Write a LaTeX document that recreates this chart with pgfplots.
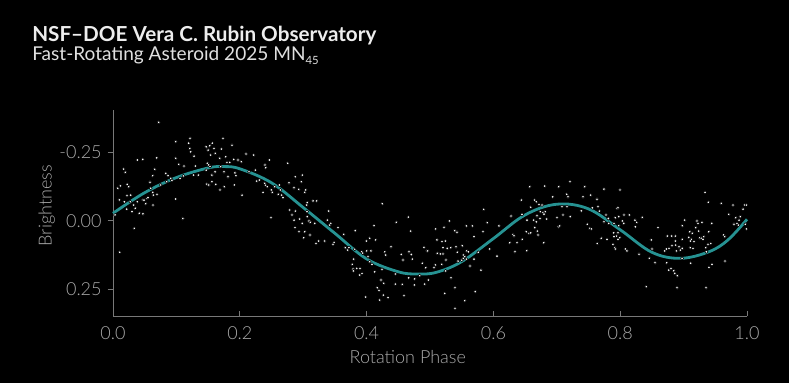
\documentclass[border=0pt]{standalone}
\usepackage{pgfplots}
\pgfplotsset{compat=1.18}
\usepackage{pgfplotstable}
\usepackage{fontspec}
\setmainfont{Lato}
\newfontfamily\lightfont{Lato Light}
\definecolor{teal1}{RGB}{38,146,146}
\definecolor{tickgray}{RGB}{170,170,170}
\definecolor{axgray}{RGB}{120,120,120}

\pgfplotstableread{
p v
0.072 -0.358
0.0988 -0.288
0.1215 -0.300
0.1193 -0.282
0.121 -0.263
0.1225 -0.251
0.1278 -0.235
0.147 -0.269
0.150 -0.257
0.1525 -0.273
0.1567 -0.282
0.1593 -0.263
0.1614 -0.245
0.154 -0.239
0.0384 -0.221
0.0468 -0.223
0.0689 -0.229
0.0988 -0.227
0.1036 -0.205
0.112 -0.199
0.0168 -0.188
0.0195 -0.176
0.0657 -0.187
0.0626 -0.164
0.0831 -0.172
0.0868 -0.164
0.091 -0.154
0.130 -0.199
0.127 -0.166
0.1346 -0.166
0.1488 -0.209
0.1509 -0.203
0.153 -0.197
0.147 -0.184
0.156 -0.166
0.161 -0.178
0.1057 -0.154
0.111 -0.163
0.0074 -0.118
0.0116 -0.127
0.0226 -0.132
0.0247 -0.124
0.0221 -0.091
0.0279 -0.093
0.0584 -0.140
0.0594 -0.118
0.0626 -0.103
0.0636 -0.093
0.0694 -0.096
0.0752 -0.130
0.0846 -0.142
0.093 -0.147
0.148 -0.133
0.151 -0.130
0.156 -0.142
0.162 -0.132
0.010 -0.076
0.0179 -0.069
0.0216 -0.042
0.0273 -0.069
0.030 -0.033
0.0326 -0.057
0.0352 -0.045
0.0384 -0.069
0.0415 -0.027
0.0468 -0.075
0.0489 -0.075
0.0515 -0.062
0.0536 -0.081
0.0552 -0.084
0.0473 -0.025
0.0631 -0.057
0.0988 -0.079
0.0032 -0.021
0.110 -0.008
0.0336 0.028
0.0105 0.115
0.1735 -0.300
0.1877 -0.275
0.1709 -0.261
0.1777 -0.233
0.1682 -0.227
0.2098 -0.243
0.2219 -0.239
0.1798 -0.212
0.184 -0.212
0.1903 -0.223
0.1972 -0.221
0.2024 -0.215
0.2466 -0.221
0.2397 -0.203
0.2408 -0.193
0.2755 -0.209
0.1698 -0.197
0.1751 -0.178
0.1924 -0.174
0.194 -0.164
0.2145 -0.178
0.2245 -0.184
0.1814 -0.160
0.1756 -0.124
0.1688 -0.112
0.1914 -0.130
0.2035 -0.093
0.2266 -0.144
0.2308 -0.148
0.2403 -0.130
0.2434 -0.124
0.2392 -0.136
0.2497 -0.112
0.2513 -0.103
0.2624 -0.130
0.2639 -0.112
0.2608 -0.096
0.2681 -0.084
0.266 -0.093
0.2366 -0.103
0.255 -0.124
0.2776 -0.138
0.2876 -0.160
0.2986 -0.166
0.2971 -0.142
0.2855 -0.120
0.2929 -0.114
0.3039 -0.112
0.3023 -0.103
0.3065 -0.066
0.3055 -0.057
0.3155 -0.072
0.3212 -0.072
0.2787 -0.039
0.2876 -0.035
0.2823 -0.021
0.2855 -0.002
0.2944 -0.006
0.2986 0.010
0.3065 -0.015
0.3091 0.001
0.3113 0.006
0.3181 0.010
0.306 -0.033
0.2492 -0.011
0.2871 0.025
0.2934 0.040
0.3023 0.040
0.3007 0.062
0.3107 0.052
0.3202 0.083
0.3244 0.074
0.4248 -0.062
0.3402 -0.035
0.4658 -0.013
0.3381 -0.002
0.3433 0.010
0.3417 0.016
0.4469 0.006
0.4117 0.018
0.4695 0.038
0.3549 0.025
0.3822 0.036
0.3638 0.050
0.3339 0.074
0.3486 0.079
0.347 0.086
0.4048 0.064
0.3996 0.074
0.4143 0.070
0.4385 0.095
0.4905 0.097
0.4953 0.110
0.3665 0.098
0.3722 0.098
0.3701 0.107
0.3812 0.104
0.3922 0.113
0.3938 0.118
0.4001 0.110
0.4069 0.110
0.4285 0.113
0.4301 0.125
0.4548 0.123
0.4669 0.113
0.4706 0.123
0.4022 0.131
0.4574 0.143
0.4721 0.140
0.3796 0.140
0.4048 0.149
0.4085 0.159
0.3775 0.159
0.3896 0.174
0.3843 0.174
0.4879 0.155
0.4932 0.171
0.4243 0.177
0.3786 0.176
0.3791 0.183
0.3927 0.192
0.3891 0.198
0.4127 0.186
0.4453 0.194
0.4664 0.208
0.4758 0.212
0.4837 0.200
0.4227 0.216
0.4269 0.228
0.4453 0.231
0.4564 0.232
0.4753 0.234
0.4916 0.231
0.4169 0.244
0.4196 0.254
0.4264 0.271
0.4338 0.280
0.4206 0.289
0.3985 0.278
0.4590 0.273
0.6572 -0.124
0.6441 -0.075
0.5846 -0.041
0.6588 -0.049
0.6278 -0.017
0.6451 -0.023
0.5305 0.001
0.653 -0.002
0.5904 0.007
0.6088 0.019
0.5573 0.019
0.5668 0.019
0.5221 0.024
0.5089 0.030
0.5389 0.036
0.5426 0.042
0.5836 0.040
0.6519 0.040
0.6562 0.046
0.6588 0.044
0.6309 0.050
0.6325 0.055
0.5694 0.058
0.5110 0.070
0.5189 0.076
0.5242 0.074
0.551 0.091
0.6257 0.080
0.6372 0.080
0.6456 0.068
0.4963 0.110
0.5205 0.098
0.5273 0.101
0.5326 0.098
0.541 0.095
0.5578 0.110
0.5605 0.113
0.5762 0.115
0.5941 0.103
0.634 0.113
0.6525 0.109
0.5116 0.119
0.5163 0.121
0.5205 0.121
0.5431 0.115
0.5526 0.125
0.5547 0.131
0.5526 0.137
0.5573 0.140
0.5252 0.143
0.5442 0.147
0.5694 0.140
0.6057 0.129
0.5084 0.161
0.5184 0.159
0.5063 0.171
0.5500 0.144
0.5631 0.165
0.5247 0.183
0.5804 0.180
0.4974 0.216
0.5331 0.208
0.5394 0.244
0.5231 0.265
0.5715 0.258
0.5547 0.291
0.5394 0.319
0.7208 -0.142
0.6809 -0.126
0.7029 -0.124
0.7439 -0.124
0.7744 -0.115
0.7997 -0.112
0.7156 -0.096
0.7177 -0.087
0.6935 -0.087
0.7413 -0.087
0.7534 -0.093
0.7634 -0.078
0.6651 -0.075
0.6677 -0.069
0.6719 -0.059
0.6767 -0.057
0.7082 -0.051
0.7161 -0.051
0.7560 -0.047
0.765 -0.051
0.7671 -0.035
0.795 -0.045
0.7965 -0.047
0.674 -0.033
0.6782 -0.030
0.6819 -0.033
0.6798 -0.024
0.7387 -0.036
0.6688 -0.018
0.6735 -0.008
0.7003 -0.011
0.7098 -0.021
0.7213 -0.015
0.7776 -0.021
0.7923 -0.011
0.7976 -0.015
0.806 -0.021
0.8144 -0.021
0.6635 -0.002
0.6677 0.004
0.6840 -0.006
0.7813 -0.008
0.7744 0.004
0.7818 0.010
0.8034 0.001
0.8055 0.010
0.8233 -0.002
0.8260 0.006
0.6651 0.025
0.7482 0.013
0.7518 0.028
0.7545 0.030
0.7902 0.010
0.7976 0.018
0.7024 0.022
0.7045 0.019
0.6693 0.038
0.8239 0.022
0.7897 0.044
0.7965 0.044
0.7939 0.056
0.6704 0.052
0.7902 0.058
0.7992 0.062
0.7702 0.064
0.7792 0.068
0.7965 0.068
0.6793 0.080
0.7639 0.083
0.7886 0.086
0.7913 0.098
0.7923 0.103
0.8081 0.103
0.8107 0.110
0.9338 -0.103
0.939 -0.067
0.9595 -0.063
0.9779 -0.057
0.9963 -0.057
0.999 -0.057
0.9937 -0.042
0.9711 -0.023
0.9895 -0.015
0.9821 -0.011
0.8349 -0.012
0.9017 -0.002
0.9211 0.001
0.9227 0.010
0.929 0.006
0.9443 0.010
0.9795 0.013
0.9842 0.010
0.9874 -0.002
0.9863 0.016
0.9974 0.013
0.999 0.030
0.8596 0.025
0.898 0.018
0.919 0.025
0.9096 0.040
0.9138 0.046
0.9238 0.038
0.9396 0.040
0.8743 0.056
0.8812 0.056
0.8870 0.056
0.908 0.061
0.9122 0.068
0.9253 0.062
0.928 0.064
0.9317 0.058
0.9306 0.068
0.9632 0.052
0.9648 0.058
0.849 0.070
0.887 0.074
0.898 0.068
0.9164 0.076
0.9106 0.074
0.9385 0.086
0.9427 0.083
0.9348 0.098
0.8817 0.091
0.8875 0.089
0.8928 0.095
0.9106 0.098
0.9148 0.101
0.8502 0.103
0.8728 0.103
0.8702 0.110
0.8770 0.101
0.8886 0.110
0.8949 0.107
0.898 0.101
0.9359 0.113
0.8297 0.122
0.846 0.137
0.8975 0.137
0.9653 0.147
0.8549 0.153
0.8733 0.153
0.911 0.155
0.9448 0.159
0.8801 0.174
0.8844 0.182
0.8765 0.180
0.9400 0.170
0.8859 0.192
0.8902 0.200
0.8412 0.240
0.8896 0.244
0.9354 0.244
}\obsdata

\pgfplotstableread{
p v
0.000 -0.027
0.050 -0.102
0.100 -0.157
0.150 -0.192
0.175 -0.197
0.200 -0.189
0.250 -0.138
0.300 -0.048
0.350 0.046
0.400 0.139
0.450 0.186
0.480 0.194
0.510 0.188
0.550 0.149
0.600 0.065
0.650 -0.021
0.700 -0.060
0.750 -0.043
0.800 0.033
0.850 0.115
0.895 0.137
0.940 0.113
0.970 0.070
1.000 -0.005
}\fitdata

\begin{document}
\begin{tikzpicture}
\fill[black] (0pt,0pt) rectangle (591.75pt,287.25pt);
\useasboundingbox (0pt,0pt) rectangle (591.75pt,287.25pt);
\node[anchor=base west, inner sep=0pt, text=white!93!black, font=\fontsize{15.5pt}{18pt}\selectfont\bfseries] at (24pt,256pt) {NSF–DOE Vera C. Rubin Observatory};
\node[anchor=base west, inner sep=0pt, text=white!88!black, font=\fontsize{14.3pt}{17pt}\selectfont] at (24pt,242pt) {Fast-Rotating Asteroid 2025 MN\raisebox{-3.2pt}{\fontsize{8.5pt}{10pt}\selectfont 45}};
\begin{axis}[
  at={(84.75pt,50.25pt)}, anchor=south west,
  scale only axis, width=475.5pt, height=154.5pt,
  xmin=0, xmax=1, ymin=-0.403, ymax=0.347,
  y dir=reverse,
  axis x line*=bottom, axis y line*=left,
  axis line style={draw=axgray, line width=0.6pt, -},
  tick style={draw=axgray, line width=0.6pt},
  tick align=outside, major tick length=4pt,
  xtick style={yshift=4pt},
  xtick={0,0.2,0.4,0.6,0.8,1.0},
  xticklabels={0.0,0.2,0.4,0.6,0.8,1.0},
  ytick={-0.25,0,0.25},
  yticklabels={-0.25,0.00,0.25},
  ticklabel style={font=\lightfont\fontsize{13.5pt}{16pt}\selectfont, text=tickgray},
  xticklabel style={yshift=-0.5pt},
  yticklabel style={xshift=-1pt},
  xlabel={Rotation Phase},
  ylabel={Brightness},
  label style={font=\lightfont\fontsize{13.5pt}{16pt}\selectfont, text=tickgray},
  xlabel style={at={(axis description cs:0.465,0)}, anchor=north, yshift=-22pt},
  ylabel style={at={(axis description cs:0,0.535)}, anchor=south, yshift=40pt},
  clip=false,
]
\addplot[only marks, mark=*, mark size=1.15pt, mark options={draw=none, fill=white}] table[x=p, y=v] {\obsdata};
\addplot[smooth, tension=0.6, line width=2.1pt, color=teal1] table[x=p, y=v] {\fitdata};
\end{axis}
\end{tikzpicture}
\end{document}
